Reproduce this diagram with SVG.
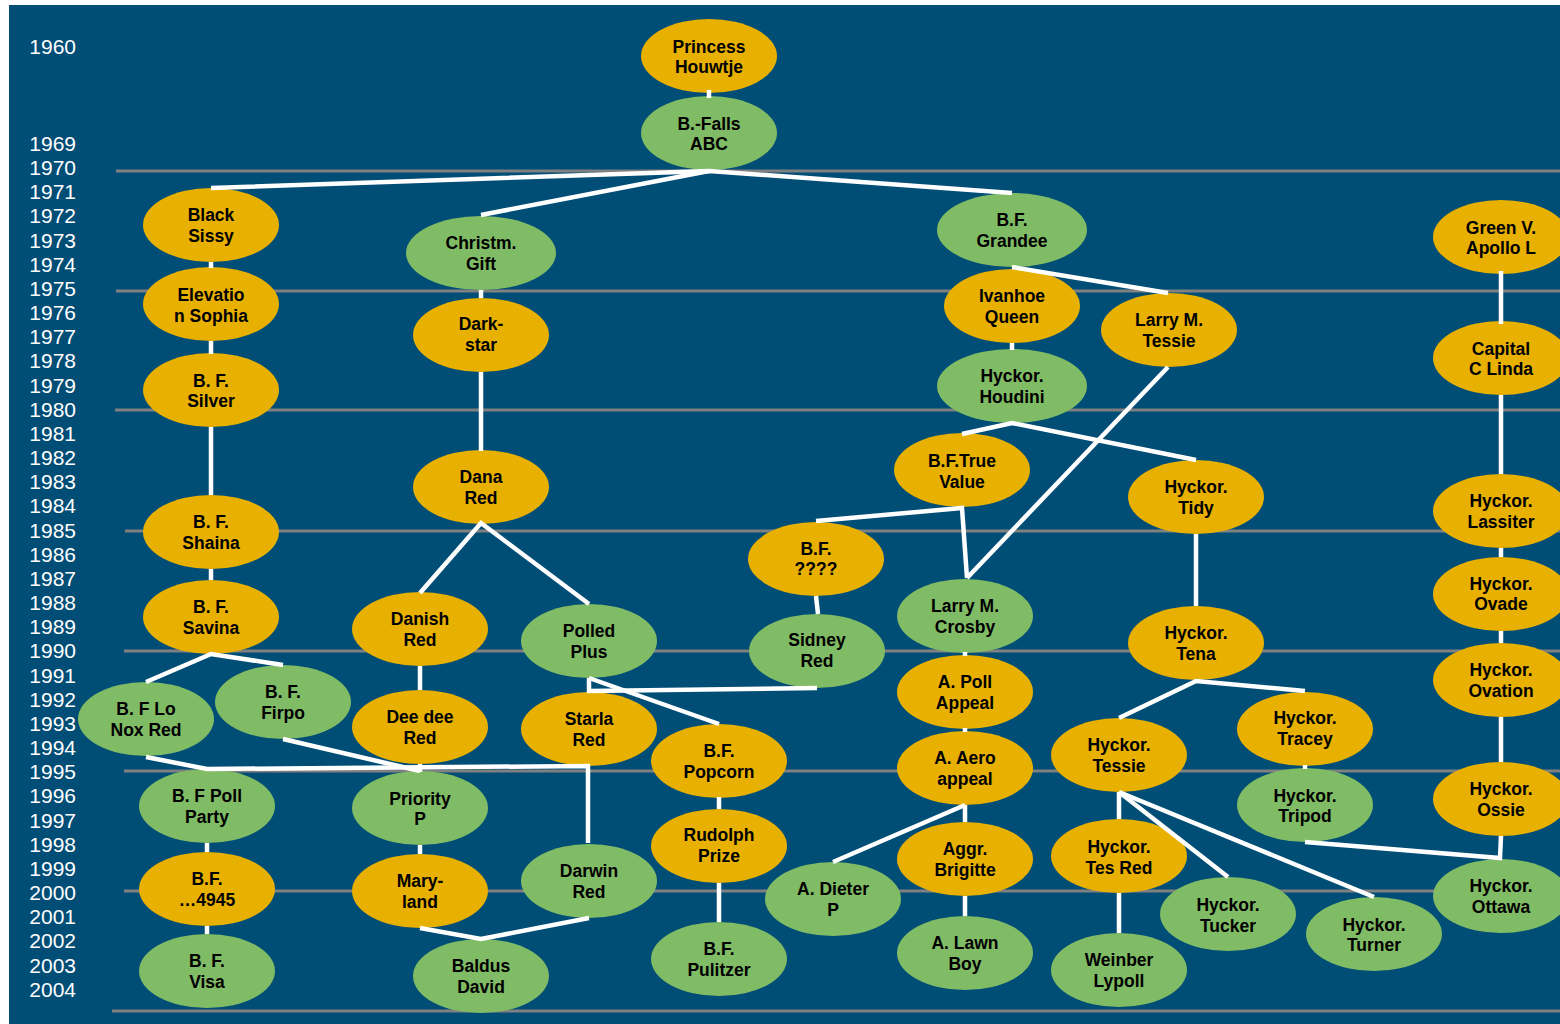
<svg xmlns="http://www.w3.org/2000/svg" width="1560" height="1024" viewBox="0 0 1560 1024">
<style>
.yr{font-family:"Liberation Sans",Arial,sans-serif;font-size:21px;fill:#ffffff;text-anchor:end}
.grid{stroke:#808080;stroke-width:3}
.g{fill:#e8b000}
.v{fill:#80bb65}
.t{font-family:"Liberation Sans",Arial,sans-serif;font-size:17.5px;font-weight:bold;fill:#000000;text-anchor:middle}
.c{stroke:#ffffff;stroke-width:4.5;fill:none;stroke-linejoin:miter}
</style>
<rect x="0" y="0" width="1560" height="1024" fill="#ffffff"/>
<rect x="9" y="5" width="1551" height="1019" fill="#004d76"/>
<g id="years">
<text class="yr" x="76" y="54">1960</text>
<text class="yr" x="76" y="151">1969</text>
<text class="yr" x="76" y="175">1970</text>
<text class="yr" x="76" y="199">1971</text>
<text class="yr" x="76" y="223">1972</text>
<text class="yr" x="76" y="248">1973</text>
<text class="yr" x="76" y="272">1974</text>
<text class="yr" x="76" y="296">1975</text>
<text class="yr" x="76" y="320">1976</text>
<text class="yr" x="76" y="344">1977</text>
<text class="yr" x="76" y="368">1978</text>
<text class="yr" x="76" y="393">1979</text>
<text class="yr" x="76" y="417">1980</text>
<text class="yr" x="76" y="441">1981</text>
<text class="yr" x="76" y="465">1982</text>
<text class="yr" x="76" y="489">1983</text>
<text class="yr" x="76" y="513">1984</text>
<text class="yr" x="76" y="538">1985</text>
<text class="yr" x="76" y="562">1986</text>
<text class="yr" x="76" y="586">1987</text>
<text class="yr" x="76" y="610">1988</text>
<text class="yr" x="76" y="634">1989</text>
<text class="yr" x="76" y="658">1990</text>
<text class="yr" x="76" y="683">1991</text>
<text class="yr" x="76" y="707">1992</text>
<text class="yr" x="76" y="731">1993</text>
<text class="yr" x="76" y="755">1994</text>
<text class="yr" x="76" y="779">1995</text>
<text class="yr" x="76" y="803">1996</text>
<text class="yr" x="76" y="828">1997</text>
<text class="yr" x="76" y="852">1998</text>
<text class="yr" x="76" y="876">1999</text>
<text class="yr" x="76" y="900">2000</text>
<text class="yr" x="76" y="924">2001</text>
<text class="yr" x="76" y="948">2002</text>
<text class="yr" x="76" y="973">2003</text>
<text class="yr" x="76" y="997">2004</text>
</g>
<g id="gridlines">
<line class="grid" x1="116" y1="171" x2="1560" y2="171"/>
<line class="grid" x1="116" y1="291" x2="1560" y2="291"/>
<line class="grid" x1="115" y1="410" x2="1560" y2="410"/>
<line class="grid" x1="125" y1="531" x2="1560" y2="531"/>
<line class="grid" x1="124" y1="651" x2="1560" y2="651"/>
<line class="grid" x1="124" y1="771" x2="1560" y2="771"/>
<line class="grid" x1="124" y1="891" x2="1560" y2="891"/>
<line class="grid" x1="112" y1="1011" x2="1560" y2="1011"/>
</g>
<g id="nodes">
<g id="n-princess"><ellipse class="g" cx="709" cy="56" rx="68" ry="37"/><text class="t" x="709" y="53">Princess</text><text class="t" x="709" y="73">Houwtje</text></g>
<g id="n-bfalls"><ellipse class="v" cx="709" cy="133" rx="68" ry="37"/><text class="t" x="709" y="130">B.-Falls</text><text class="t" x="709" y="150">ABC</text></g>
<g id="n-blacksissy"><ellipse class="g" cx="211" cy="225" rx="68" ry="37"/><text class="t" x="211" y="221">Black</text><text class="t" x="211" y="242">Sissy</text></g>
<g id="n-elevatio"><ellipse class="g" cx="211" cy="304" rx="68" ry="37"/><text class="t" x="211" y="301">Elevatio</text><text class="t" x="211" y="322">n Sophia</text></g>
<g id="n-silver"><ellipse class="g" cx="211" cy="390" rx="68" ry="37"/><text class="t" x="211" y="387">B. F.</text><text class="t" x="211" y="407">Silver</text></g>
<g id="n-shaina"><ellipse class="g" cx="211" cy="532" rx="68" ry="37"/><text class="t" x="211" y="528">B. F.</text><text class="t" x="211" y="549">Shaina</text></g>
<g id="n-savina"><ellipse class="g" cx="211" cy="617" rx="68" ry="37"/><text class="t" x="211" y="613">B. F.</text><text class="t" x="211" y="634">Savina</text></g>
<g id="n-lonox"><ellipse class="v" cx="146" cy="719" rx="68" ry="37"/><text class="t" x="146" y="715">B. F Lo</text><text class="t" x="146" y="736">Nox Red</text></g>
<g id="n-firpo"><ellipse class="v" cx="283" cy="702" rx="68" ry="37"/><text class="t" x="283" y="698">B. F.</text><text class="t" x="283" y="719">Firpo</text></g>
<g id="n-pollparty"><ellipse class="v" cx="207" cy="806" rx="68" ry="37"/><text class="t" x="207" y="802">B. F Poll</text><text class="t" x="207" y="823">Party</text></g>
<g id="n-4945"><ellipse class="g" cx="207" cy="889" rx="68" ry="37"/><text class="t" x="207" y="885">B.F.</text><text class="t" x="207" y="906">…4945</text></g>
<g id="n-visa"><ellipse class="v" cx="207" cy="971" rx="68" ry="37"/><text class="t" x="207" y="967">B. F.</text><text class="t" x="207" y="988">Visa</text></g>
<g id="n-christm"><ellipse class="v" cx="481" cy="253" rx="75" ry="37"/><text class="t" x="481" y="249">Christm.</text><text class="t" x="481" y="270">Gift</text></g>
<g id="n-darkstar"><ellipse class="g" cx="481" cy="335" rx="68" ry="37"/><text class="t" x="481" y="330">Dark-</text><text class="t" x="481" y="351">star</text></g>
<g id="n-danared"><ellipse class="g" cx="481" cy="487" rx="68" ry="37"/><text class="t" x="481" y="483">Dana</text><text class="t" x="481" y="504">Red</text></g>
<g id="n-danishred"><ellipse class="g" cx="420" cy="629" rx="68" ry="37"/><text class="t" x="420" y="625">Danish</text><text class="t" x="420" y="646">Red</text></g>
<g id="n-polledplus"><ellipse class="v" cx="589" cy="641" rx="68" ry="37"/><text class="t" x="589" y="637">Polled</text><text class="t" x="589" y="658">Plus</text></g>
<g id="n-deedee"><ellipse class="g" cx="420" cy="727" rx="68" ry="37"/><text class="t" x="420" y="723">Dee dee</text><text class="t" x="420" y="744">Red</text></g>
<g id="n-starla"><ellipse class="g" cx="589" cy="729" rx="68" ry="37"/><text class="t" x="589" y="725">Starla</text><text class="t" x="589" y="746">Red</text></g>
<g id="n-priority"><ellipse class="v" cx="420" cy="808" rx="68" ry="37"/><text class="t" x="420" y="805">Priority</text><text class="t" x="420" y="825">P</text></g>
<g id="n-maryland"><ellipse class="g" cx="420" cy="891" rx="68" ry="37"/><text class="t" x="420" y="887">Mary-</text><text class="t" x="420" y="908">land</text></g>
<g id="n-darwin"><ellipse class="v" cx="589" cy="881" rx="68" ry="37"/><text class="t" x="589" y="877">Darwin</text><text class="t" x="589" y="898">Red</text></g>
<g id="n-baldus"><ellipse class="v" cx="481" cy="976" rx="68" ry="37"/><text class="t" x="481" y="972">Baldus</text><text class="t" x="481" y="993">David</text></g>
<g id="n-popcorn"><ellipse class="g" cx="719" cy="761" rx="68" ry="37"/><text class="t" x="719" y="757">B.F.</text><text class="t" x="719" y="778">Popcorn</text></g>
<g id="n-rudolph"><ellipse class="g" cx="719" cy="846" rx="68" ry="37"/><text class="t" x="719" y="841">Rudolph</text><text class="t" x="719" y="862">Prize</text></g>
<g id="n-pulitzer"><ellipse class="v" cx="719" cy="959" rx="68" ry="37"/><text class="t" x="719" y="955">B.F.</text><text class="t" x="719" y="976">Pulitzer</text></g>
<g id="n-bfqq"><ellipse class="g" cx="816" cy="559" rx="68" ry="37"/><text class="t" x="816" y="555">B.F.</text><text class="t" x="816" y="575">????</text></g>
<g id="n-sidney"><ellipse class="v" cx="817" cy="651" rx="68" ry="37"/><text class="t" x="817" y="646">Sidney</text><text class="t" x="817" y="667">Red</text></g>
<g id="n-grandee"><ellipse class="v" cx="1012" cy="230" rx="75" ry="37"/><text class="t" x="1012" y="226">B.F.</text><text class="t" x="1012" y="247">Grandee</text></g>
<g id="n-ivanhoe"><ellipse class="g" cx="1012" cy="306" rx="68" ry="37"/><text class="t" x="1012" y="302">Ivanhoe</text><text class="t" x="1012" y="323">Queen</text></g>
<g id="n-larrytessie"><ellipse class="g" cx="1169" cy="330" rx="68" ry="37"/><text class="t" x="1169" y="326">Larry M.</text><text class="t" x="1169" y="347">Tessie</text></g>
<g id="n-houdini"><ellipse class="v" cx="1012" cy="386" rx="75" ry="37"/><text class="t" x="1012" y="382">Hyckor.</text><text class="t" x="1012" y="403">Houdini</text></g>
<g id="n-truevalue"><ellipse class="g" cx="962" cy="470" rx="68" ry="37"/><text class="t" x="962" y="467">B.F.True</text><text class="t" x="962" y="488">Value</text></g>
<g id="n-tidy"><ellipse class="g" cx="1196" cy="497" rx="68" ry="37"/><text class="t" x="1196" y="493">Hyckor.</text><text class="t" x="1196" y="514">Tidy</text></g>
<g id="n-crosby"><ellipse class="v" cx="965" cy="616" rx="68" ry="37"/><text class="t" x="965" y="612">Larry M.</text><text class="t" x="965" y="633">Crosby</text></g>
<g id="n-apoll"><ellipse class="g" cx="965" cy="692" rx="68" ry="37"/><text class="t" x="965" y="688">A. Poll</text><text class="t" x="965" y="709">Appeal</text></g>
<g id="n-aero"><ellipse class="g" cx="965" cy="768" rx="68" ry="37"/><text class="t" x="965" y="764">A. Aero</text><text class="t" x="965" y="785">appeal</text></g>
<g id="n-brigitte"><ellipse class="g" cx="965" cy="859" rx="68" ry="37"/><text class="t" x="965" y="855">Aggr.</text><text class="t" x="965" y="876">Brigitte</text></g>
<g id="n-dieter"><ellipse class="v" cx="833" cy="899" rx="68" ry="37"/><text class="t" x="833" y="895">A. Dieter</text><text class="t" x="833" y="916">P</text></g>
<g id="n-lawnboy"><ellipse class="v" cx="965" cy="953" rx="68" ry="37"/><text class="t" x="965" y="949">A. Lawn</text><text class="t" x="965" y="970">Boy</text></g>
<g id="n-tena"><ellipse class="g" cx="1196" cy="643" rx="68" ry="37"/><text class="t" x="1196" y="639">Hyckor.</text><text class="t" x="1196" y="660">Tena</text></g>
<g id="n-htessie"><ellipse class="g" cx="1119" cy="755" rx="68" ry="37"/><text class="t" x="1119" y="751">Hyckor.</text><text class="t" x="1119" y="772">Tessie</text></g>
<g id="n-tracey"><ellipse class="g" cx="1305" cy="729" rx="68" ry="37"/><text class="t" x="1305" y="724">Hyckor.</text><text class="t" x="1305" y="745">Tracey</text></g>
<g id="n-tripod"><ellipse class="v" cx="1305" cy="805" rx="68" ry="37"/><text class="t" x="1305" y="802">Hyckor.</text><text class="t" x="1305" y="822">Tripod</text></g>
<g id="n-tesred"><ellipse class="g" cx="1119" cy="856" rx="68" ry="37"/><text class="t" x="1119" y="853">Hyckor.</text><text class="t" x="1119" y="874">Tes Red</text></g>
<g id="n-tucker"><ellipse class="v" cx="1228" cy="914" rx="68" ry="37"/><text class="t" x="1228" y="911">Hyckor.</text><text class="t" x="1228" y="932">Tucker</text></g>
<g id="n-turner"><ellipse class="v" cx="1374" cy="934" rx="68" ry="37"/><text class="t" x="1374" y="931">Hyckor.</text><text class="t" x="1374" y="951">Turner</text></g>
<g id="n-weinber"><ellipse class="v" cx="1119" cy="970" rx="68" ry="37"/><text class="t" x="1119" y="966">Weinber</text><text class="t" x="1119" y="987">Lypoll</text></g>
<g id="n-greenv"><ellipse class="g" cx="1501" cy="237" rx="68" ry="37"/><text class="t" x="1501" y="234">Green V.</text><text class="t" x="1501" y="254">Apollo L</text></g>
<g id="n-capital"><ellipse class="g" cx="1501" cy="358" rx="68" ry="37"/><text class="t" x="1501" y="355">Capital</text><text class="t" x="1501" y="375">C Linda</text></g>
<g id="n-lassiter"><ellipse class="g" cx="1501" cy="511" rx="68" ry="37"/><text class="t" x="1501" y="507">Hyckor.</text><text class="t" x="1501" y="528">Lassiter</text></g>
<g id="n-ovade"><ellipse class="g" cx="1501" cy="594" rx="68" ry="37"/><text class="t" x="1501" y="590">Hyckor.</text><text class="t" x="1501" y="610">Ovade</text></g>
<g id="n-ovation"><ellipse class="g" cx="1501" cy="680" rx="68" ry="37"/><text class="t" x="1501" y="676">Hyckor.</text><text class="t" x="1501" y="697">Ovation</text></g>
<g id="n-ossie"><ellipse class="g" cx="1501" cy="799" rx="68" ry="37"/><text class="t" x="1501" y="795">Hyckor.</text><text class="t" x="1501" y="816">Ossie</text></g>
<g id="n-ottawa"><ellipse class="v" cx="1501" cy="896" rx="68" ry="37"/><text class="t" x="1501" y="892">Hyckor.</text><text class="t" x="1501" y="913">Ottawa</text></g>
</g>
<g id="connectors">
<line class="c" x1="709" y1="90" x2="709" y2="98"/>
<polyline class="c" points="211,188 709,171 1012,193"/>
<line class="c" x1="709" y1="171" x2="481" y2="215"/>
<line class="c" x1="211" y1="262" x2="211" y2="268"/>
<line class="c" x1="211" y1="341" x2="211" y2="354"/>
<line class="c" x1="211" y1="427" x2="211" y2="495"/>
<line class="c" x1="211" y1="569" x2="211" y2="580"/>
<polyline class="c" points="146,682 211,654 283,665"/>
<polyline class="c" points="146,757 207,769 588,766 588,843"/>
<line class="c" x1="283" y1="739" x2="420" y2="771"/>
<line class="c" x1="420" y1="764" x2="420" y2="772"/>
<line class="c" x1="420" y1="845" x2="420" y2="854"/>
<polyline class="c" points="420,928 481,939 589,918"/>
<line class="c" x1="207" y1="843" x2="207" y2="852"/>
<line class="c" x1="207" y1="926" x2="207" y2="934"/>
<line class="c" x1="481" y1="290" x2="481" y2="298"/>
<line class="c" x1="481" y1="372" x2="481" y2="451"/>
<polyline class="c" points="420,593 481,523 589,604"/>
<line class="c" x1="420" y1="666" x2="420" y2="690"/>
<line class="c" x1="589" y1="678" x2="719" y2="724"/>
<polyline class="c" points="589,678 589,691 817,688"/>
<line class="c" x1="719" y1="797" x2="719" y2="809"/>
<line class="c" x1="719" y1="883" x2="719" y2="922"/>
<polyline class="c" points="816,521 962,508 967,578"/>
<line class="c" x1="1168" y1="367" x2="967" y2="578"/>
<line class="c" x1="816" y1="596" x2="818" y2="614"/>
<line class="c" x1="965" y1="652" x2="965" y2="656"/>
<line class="c" x1="965" y1="728" x2="965" y2="732"/>
<line class="c" x1="965" y1="805" x2="833" y2="862"/>
<line class="c" x1="965" y1="805" x2="965" y2="822"/>
<line class="c" x1="965" y1="896" x2="965" y2="916"/>
<polyline class="c" points="1012,267 1168,293"/>
<line class="c" x1="1012" y1="343" x2="1012" y2="350"/>
<polyline class="c" points="962,434 1012,423 1196,460"/>
<line class="c" x1="1196" y1="534" x2="1196" y2="606"/>
<polyline class="c" points="1119,718 1196,681 1305,691"/>
<line class="c" x1="1305" y1="765" x2="1305" y2="769"/>
<line class="c" x1="1119" y1="792" x2="1119" y2="819"/>
<line class="c" x1="1119" y1="792" x2="1228" y2="877"/>
<line class="c" x1="1119" y1="792" x2="1374" y2="897"/>
<line class="c" x1="1119" y1="893" x2="1119" y2="933"/>
<polyline class="c" points="1305,842 1500,858 1501,836"/>
<line class="c" x1="1501" y1="271" x2="1501" y2="324"/>
<line class="c" x1="1501" y1="395" x2="1501" y2="474"/>
<line class="c" x1="1501" y1="548" x2="1501" y2="557"/>
<line class="c" x1="1501" y1="631" x2="1501" y2="643"/>
<line class="c" x1="1501" y1="717" x2="1501" y2="762"/>
</g>
</svg>
